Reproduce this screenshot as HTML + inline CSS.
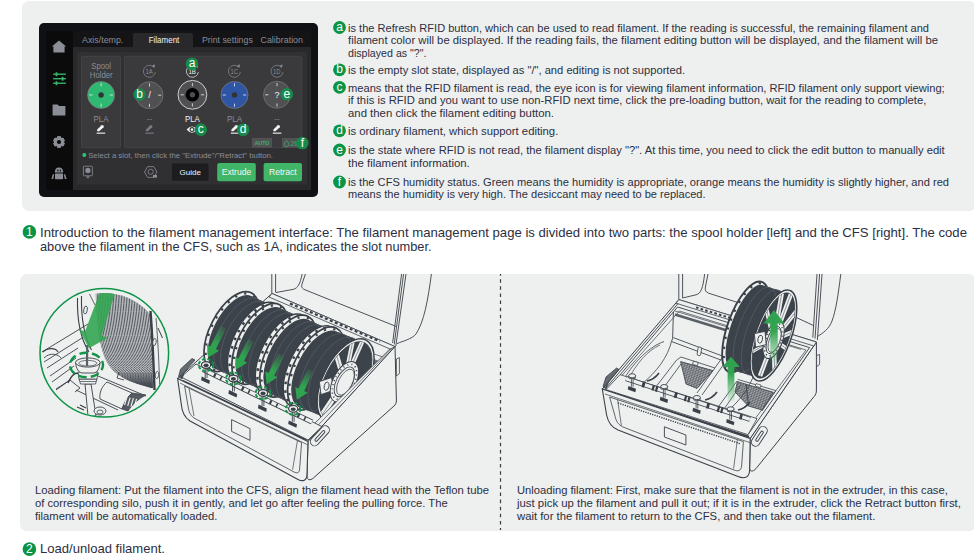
<!DOCTYPE html>
<html><head><meta charset="utf-8"><title>Filament management</title>
<style>
html,body{margin:0;padding:0;background:#fff;}
body{width:974px;height:558px;overflow:hidden;}
svg{display:block;font-family:"Liberation Sans",sans-serif;}
</style></head><body>
<svg width="974" height="558" viewBox="0 0 974 558">
<rect x="22" y="1" width="954" height="210" rx="7" fill="#eef0ef"/>
<rect x="20" y="274" width="956" height="257" rx="7" fill="#eef0ef"/>
<line x1="500.5" y1="273.9" x2="500.5" y2="530" stroke="#3a4048" stroke-width="1.25" stroke-dasharray="3.55 3.559" stroke-dashoffset="1.8"/>
<!-- text -->
<g fill="#2c2f42">
<text x="348" y="31.7" font-size="10.8" textLength="581.0" lengthAdjust="spacingAndGlyphs">is the Refresh RFID button, which can be used to read filament. If the reading is successful, the remaining filament and</text>
<text x="348" y="43.9" font-size="10.8" textLength="590.0" lengthAdjust="spacingAndGlyphs">filament color will be displayed. If the reading fails, the filament editing button will be displayed, and the filament will be</text>
<text x="348" y="56.6" font-size="10.8" textLength="78.5" lengthAdjust="spacingAndGlyphs">displayed as "?".</text>
<text x="348" y="73.7" font-size="10.8" textLength="337.0" lengthAdjust="spacingAndGlyphs">is the empty slot state, displayed as "/", and editing is not supported.</text>
<text x="348" y="92.1" font-size="10.8" textLength="596.7" lengthAdjust="spacingAndGlyphs">means that the RFID filament is read, the eye icon is for viewing filament information, RFID filament only support viewing;</text>
<text x="348" y="103.7" font-size="10.8" textLength="578.3" lengthAdjust="spacingAndGlyphs">if this is RFID and you want to use non-RFID next time, click the pre-loading button, wait for the reading to complete,</text>
<text x="348" y="117" font-size="10.8" textLength="206.0" lengthAdjust="spacingAndGlyphs">and then click the filament editing button.</text>
<text x="348" y="134.9" font-size="10.8" textLength="210.3" lengthAdjust="spacingAndGlyphs">is ordinary filament, which support editing.</text>
<text x="348" y="154" font-size="10.8" textLength="596.7" lengthAdjust="spacingAndGlyphs">is the state where RFID is not read, the filament display "?". At this time, you need to click the edit button to manually edit</text>
<text x="348" y="166.8" font-size="10.8" textLength="121.8" lengthAdjust="spacingAndGlyphs">the filament information.</text>
<text x="348" y="186" font-size="10.8" textLength="601.0" lengthAdjust="spacingAndGlyphs">is the CFS humidity status. Green means the humidity is appropriate, orange means the humidity is slightly higher, and red</text>
<text x="348" y="197.8" font-size="10.8" textLength="357.6" lengthAdjust="spacingAndGlyphs">means the humidity is very high. The desiccant may need to be replaced.</text>
<text x="40" y="237.2" font-size="12.2" textLength="927.0" lengthAdjust="spacingAndGlyphs">Introduction to the filament management interface: The filament management page is divided into two parts: the spool holder [left] and the CFS [right]. The code</text>
<text x="40" y="251.3" font-size="12.2" textLength="391.6" lengthAdjust="spacingAndGlyphs">above the filament in the CFS, such as 1A, indicates the slot number.</text>
<text x="40" y="553.4" font-size="12.2" textLength="125.0" lengthAdjust="spacingAndGlyphs">Load/unload filament.</text>
<text x="35" y="493.8" font-size="10.6" textLength="454.0" lengthAdjust="spacingAndGlyphs">Loading filament: Put the filament into the CFS, align the filament head with the Teflon tube</text>
<text x="35" y="506.8" font-size="10.6" textLength="412.7" lengthAdjust="spacingAndGlyphs">of corresponding silo, push it in gently, and let go after feeling the pulling force. The</text>
<text x="35" y="519.8" font-size="10.6" textLength="182.3" lengthAdjust="spacingAndGlyphs">filament will be automatically loaded.</text>
<text x="517" y="493.8" font-size="10.6" textLength="430.8" lengthAdjust="spacingAndGlyphs">Unloading filament: First, make sure that the filament is not in the extruder, in this case,</text>
<text x="517" y="506.8" font-size="10.6" textLength="443.9" lengthAdjust="spacingAndGlyphs">just pick up the filament and pull it out; if it is in the extruder, click the Retract button first,</text>
<text x="517" y="519.8" font-size="10.6" textLength="358.3" lengthAdjust="spacingAndGlyphs">wait for the filament to return to the CFS, and then take out the filament.</text>
</g>
<circle cx="339.5" cy="27.5" r="6.4" fill="#0a9446"/><text x="339.5" y="31.1" font-size="12" fill="#fff" text-anchor="middle">a</text>
<circle cx="339.5" cy="69.8" r="6.4" fill="#0a9446"/><text x="339.5" y="73.39999999999999" font-size="12" fill="#fff" text-anchor="middle">b</text>
<circle cx="339.5" cy="87.3" r="6.4" fill="#0a9446"/><text x="339.5" y="90.89999999999999" font-size="12" fill="#fff" text-anchor="middle">c</text>
<circle cx="339.5" cy="130.8" r="6.4" fill="#0a9446"/><text x="339.5" y="134.4" font-size="12" fill="#fff" text-anchor="middle">d</text>
<circle cx="339.5" cy="150" r="6.4" fill="#0a9446"/><text x="339.5" y="153.6" font-size="12" fill="#fff" text-anchor="middle">e</text>
<circle cx="339.5" cy="182" r="6.4" fill="#0a9446"/><text x="339.5" y="185.6" font-size="12" fill="#fff" text-anchor="middle">f</text>
<circle cx="29.4" cy="231.9" r="6.8" fill="#0a9446"/><text x="29.4" y="236.1" font-size="12" fill="#fff" text-anchor="middle">1</text>
<circle cx="29.4" cy="549.1" r="6.8" fill="#0a9446"/><text x="29.4" y="553.3000000000001" font-size="12" fill="#fff" text-anchor="middle">2</text>
<!-- screen -->
<g>
<rect x="39" y="23" width="279" height="174" rx="5" fill="#101114"/>
<rect x="46" y="31" width="27" height="159" fill="#0b0b0b"/>
<rect x="73" y="31" width="238" height="159" fill="#141416"/>
<rect x="73" y="47" width="238" height="143" fill="#29292b"/>
<path d="M133 47 L133 35 Q133 33 135 33 L191 33 Q193 33 193 35 L193 47 Z" fill="#29292b"/>
<rect x="77" y="52" width="230" height="132.5" rx="1.5" fill="#303032"/>
<rect x="81.5" y="56.3" width="39" height="91.4" rx="1.2" fill="#3a3a3c" stroke="#48484b" stroke-width="0.7"/>
<rect x="124.4" y="56.3" width="177.4" height="91.4" rx="1.2" fill="#3a3a3c" stroke="#48484b" stroke-width="0.7"/>
<text x="82" y="43.1" font-size="8.6" fill="#8b8d97" textLength="41.3" lengthAdjust="spacingAndGlyphs">Axis/temp.</text>
<text x="148.7" y="43.1" font-size="8.6" fill="#f4f4f4" textLength="30.6" lengthAdjust="spacingAndGlyphs">Filament</text>
<text x="201.9" y="43.1" font-size="8.6" fill="#8b8d97" textLength="50.9" lengthAdjust="spacingAndGlyphs">Print settings</text>
<text x="260.5" y="43.1" font-size="8.6" fill="#8b8d97" textLength="42.5" lengthAdjust="spacingAndGlyphs">Calibration</text>
<g fill="#8b8d97">
<path d="M59 40.6 L66.2 46.6 L64.6 46.6 L64.6 52.4 L53.4 52.4 L53.4 46.6 L51.8 46.6 Z"/>
<path d="M52.6 104.6 L57.6 104.6 L59 106 L65.4 106 L65.4 115.4 L52.6 115.4 Z"/>
<rect x="56.9" y="136.2" width="4.2" height="11.6" rx="1.2" transform="rotate(0 59 142)"/><rect x="56.9" y="136.2" width="4.2" height="11.6" rx="1.2" transform="rotate(60 59 142)"/><rect x="56.9" y="136.2" width="4.2" height="11.6" rx="1.2" transform="rotate(120 59 142)"/><rect x="56.9" y="136.2" width="4.2" height="11.6" rx="1.2" transform="rotate(180 59 142)"/><rect x="56.9" y="136.2" width="4.2" height="11.6" rx="1.2" transform="rotate(240 59 142)"/><rect x="56.9" y="136.2" width="4.2" height="11.6" rx="1.2" transform="rotate(300 59 142)"/>
<circle cx="59" cy="142" r="4.7"/>
<circle cx="59" cy="142" r="2.1" fill="#0b0b0b"/>
<path d="M54.8 172.6 Q54.8 167.4 59 167.4 Q63.2 167.4 63.2 172.6 Z"/>
<rect x="55" y="173.4" width="8" height="5.8" rx="0.6"/>
<path d="M54.2 174.2 L53.2 179 L51.4 179 L52.8 174.2 Z"/><path d="M63.8 174.2 L64.8 179 L66.6 179 L65.2 174.2 Z"/>
<rect x="57.2" y="169.6" width="1.2" height="1.8" fill="#0b0b0b"/><rect x="59.8" y="169.6" width="1.2" height="1.8" fill="#0b0b0b"/>
</g>
<g fill="#36b56b">
<rect x="53.2" y="73.5" width="12.6" height="1.4"/>
<rect x="55.6" y="72.2" width="1.8" height="4" rx="0.4"/>
<rect x="53.2" y="78.0" width="12.6" height="1.4"/>
<rect x="61.7" y="76.7" width="1.8" height="4" rx="0.4"/>
<rect x="53.2" y="82.5" width="12.6" height="1.4"/>
<rect x="55.6" y="81.2" width="1.8" height="4" rx="0.4"/>
</g>
<text x="101.2" y="69.2" font-size="8.4" fill="#8b8d97" text-anchor="middle" textLength="19.7" lengthAdjust="spacingAndGlyphs">Spool</text>
<text x="101.2" y="77.6" font-size="8.4" fill="#8b8d97" text-anchor="middle" textLength="22.8" lengthAdjust="spacingAndGlyphs">Holder</text>
<circle cx="101.1" cy="95" r="13.5" fill="#2fb871" stroke="#7c7c80" stroke-width="0.7"/><line x1="101.1" y1="86.4" x2="101.1" y2="83.2" stroke="#c9f0db" stroke-width="0.9"/><line x1="101.1" y1="103.6" x2="101.1" y2="106.8" stroke="#c9f0db" stroke-width="0.9"/><line x1="92.5" y1="95.0" x2="89.3" y2="95.0" stroke="#c9f0db" stroke-width="0.9"/><line x1="109.69999999999999" y1="95.0" x2="112.89999999999999" y2="95.0" stroke="#c9f0db" stroke-width="0.9"/><circle cx="101.1" cy="95" r="2.7" fill="#333335"/>
<text x="101" y="121.5" font-size="8.6" fill="#8b8d97" text-anchor="middle" textLength="14.9" lengthAdjust="spacingAndGlyphs">PLA</text>
<g fill="#f4f4f4"><path d="M97.19999999999999 131.2 L97.19999999999999 129.6 L101.6 125.2 Q102.1 124.7 102.6 125.2 L103.6 126.2 Q104.1 126.7 103.6 127.2 L99.19999999999999 131.2 Z"/><rect x="96.6" y="132.6" width="8.6" height="1.1"/></g>
<path d="M153.26 66.70 A6.0 6.0 0 1 0 155.34 72.14" fill="none" stroke="#8b8d97" stroke-width="0.7"/><path d="M151.80 65.90 L155.00 64.30 L154.30 67.90 Z" fill="#8b8d97"/><text x="149.20000000000002" y="74.2" font-size="8" fill="#8b8d97" text-anchor="middle" textLength="7.4" lengthAdjust="spacingAndGlyphs">1A</text>
<circle cx="149.5" cy="95.2" r="13.5" fill="#505053" stroke="#7c7c80" stroke-width="0.7"/><line x1="149.5" y1="86.60000000000001" x2="149.5" y2="83.4" stroke="#d9d9dc" stroke-width="0.9"/><line x1="149.5" y1="103.8" x2="149.5" y2="107.0" stroke="#d9d9dc" stroke-width="0.9"/><line x1="140.9" y1="95.2" x2="137.7" y2="95.2" stroke="#d9d9dc" stroke-width="0.9"/><line x1="158.1" y1="95.2" x2="161.3" y2="95.2" stroke="#d9d9dc" stroke-width="0.9"/>
<text x="149.6" y="98.4" font-size="9.5" fill="#f4f4f4" text-anchor="middle">/</text>
<text x="149.5" y="120.5" font-size="8" fill="#8b8d97" text-anchor="middle">--</text>
<g fill="#77787f"><path d="M145.9 131.2 L145.9 129.6 L150.3 125.2 Q150.8 124.7 151.3 125.2 L152.3 126.2 Q152.8 126.7 152.3 127.2 L147.9 131.2 Z"/><rect x="145.3" y="132.6" width="8.6" height="1.1"/></g>
<path d="M196.26 66.70 A6.0 6.0 0 1 0 198.34 72.14" fill="none" stroke="#f4f4f4" stroke-width="0.7"/><path d="M194.80 65.90 L198.00 64.30 L197.30 67.90 Z" fill="#f4f4f4"/><text x="192.20000000000002" y="74.2" font-size="8" fill="#f4f4f4" text-anchor="middle" textLength="7.4" lengthAdjust="spacingAndGlyphs">1B</text>
<circle cx="192.4" cy="94.8" r="14.4" fill="#505053" stroke="#f0f0f0" stroke-width="0.8"/>
<circle cx="192.4" cy="94.8" r="13.5" fill="none" stroke="none" stroke-width="0.7"/><line x1="192.4" y1="86.2" x2="192.4" y2="83.0" stroke="#d9d9dc" stroke-width="0.9"/><line x1="192.4" y1="103.39999999999999" x2="192.4" y2="106.6" stroke="#d9d9dc" stroke-width="0.9"/><line x1="183.8" y1="94.8" x2="180.6" y2="94.8" stroke="#d9d9dc" stroke-width="0.9"/><line x1="201.0" y1="94.8" x2="204.20000000000002" y2="94.8" stroke="#d9d9dc" stroke-width="0.9"/>
<circle cx="192.4" cy="94.8" r="6.8" fill="#000"/><circle cx="192.4" cy="94.8" r="2.7" fill="#4c4c4f"/>
<text x="192.4" y="121.5" font-size="8.6" fill="#f4f4f4" text-anchor="middle" textLength="14.9" lengthAdjust="spacingAndGlyphs">PLA</text>
<path d="M186.6 129.6 Q192 123.4 197.4 129.6 Q192 135.8 186.6 129.6 Z" fill="#f4f4f4"/><circle cx="192" cy="129.6" r="2.5" fill="#3a3a3c"/><circle cx="192" cy="129.6" r="1.3" fill="#f4f4f4"/>
<path d="M238.26 66.70 A6.0 6.0 0 1 0 240.34 72.14" fill="none" stroke="#8b8d97" stroke-width="0.7"/><path d="M236.80 65.90 L240.00 64.30 L239.30 67.90 Z" fill="#8b8d97"/><text x="234.20000000000002" y="74.2" font-size="8" fill="#8b8d97" text-anchor="middle" textLength="7.4" lengthAdjust="spacingAndGlyphs">1C</text>
<circle cx="234.5" cy="95" r="13.5" fill="#2f55a5" stroke="#7c7c80" stroke-width="0.7"/><line x1="234.5" y1="86.4" x2="234.5" y2="83.2" stroke="#d5dcf0" stroke-width="0.9"/><line x1="234.5" y1="103.6" x2="234.5" y2="106.8" stroke="#d5dcf0" stroke-width="0.9"/><line x1="225.9" y1="95.0" x2="222.7" y2="95.0" stroke="#d5dcf0" stroke-width="0.9"/><line x1="243.1" y1="95.0" x2="246.3" y2="95.0" stroke="#d5dcf0" stroke-width="0.9"/><circle cx="234.5" cy="95" r="2.7" fill="#333335"/>
<text x="234.5" y="121.5" font-size="8.6" fill="#8b8d97" text-anchor="middle" textLength="14.9" lengthAdjust="spacingAndGlyphs">PLA</text>
<g fill="#f4f4f4"><path d="M231.4 131.2 L231.4 129.6 L235.8 125.2 Q236.3 124.7 236.8 125.2 L237.8 126.2 Q238.3 126.7 237.8 127.2 L233.4 131.2 Z"/><rect x="230.8" y="132.6" width="8.6" height="1.1"/></g>
<path d="M280.86 66.70 A6.0 6.0 0 1 0 282.94 72.14" fill="none" stroke="#8b8d97" stroke-width="0.7"/><path d="M279.40 65.90 L282.60 64.30 L281.90 67.90 Z" fill="#8b8d97"/><text x="276.8" y="74.2" font-size="8" fill="#8b8d97" text-anchor="middle" textLength="7.4" lengthAdjust="spacingAndGlyphs">1D</text>
<circle cx="277" cy="94.8" r="13.5" fill="#505053" stroke="#7c7c80" stroke-width="0.7"/><line x1="277.0" y1="86.2" x2="277.0" y2="83.0" stroke="#d9d9dc" stroke-width="0.9"/><line x1="277.0" y1="103.39999999999999" x2="277.0" y2="106.6" stroke="#d9d9dc" stroke-width="0.9"/><line x1="268.4" y1="94.8" x2="265.2" y2="94.8" stroke="#d9d9dc" stroke-width="0.9"/><line x1="285.6" y1="94.8" x2="288.8" y2="94.8" stroke="#d9d9dc" stroke-width="0.9"/>
<text x="277" y="98.2" font-size="9" fill="#f4f4f4" text-anchor="middle">?</text>
<text x="277" y="120.5" font-size="8" fill="#8b8d97" text-anchor="middle">--</text>
<g fill="#f4f4f4"><path d="M273.40000000000003 131.2 L273.40000000000003 129.6 L277.8 125.2 Q278.3 124.7 278.8 125.2 L279.8 126.2 Q280.3 126.7 279.8 127.2 L275.40000000000003 131.2 Z"/><rect x="272.8" y="132.6" width="8.6" height="1.1"/></g>
<rect x="252" y="138" width="20" height="9.7" fill="#525255"/>
<text x="262" y="145.2" font-size="5.2" fill="#3fae68" text-anchor="middle" font-weight="bold">AUTO</text>
<rect x="282" y="138" width="19.6" height="9.7" fill="#525255"/>
<path d="M286.6 140.4 Q289 143 289 144.4 A2.4 2.4 0 0 1 284.2 144.4 Q284.2 143 286.6 140.4 Z" fill="none" stroke="#3fae68" stroke-width="0.7"/>
<text x="290.6" y="145.6" font-size="6.6" fill="#3fae68">26</text>
<circle cx="84.3" cy="155" r="2" fill="#2fc473"/>
<text x="88.2" y="157.6" font-size="7.9" fill="#8b8d97" textLength="184.8" lengthAdjust="spacingAndGlyphs">Select a slot, then click the "Extrude"/"Retract" button.</text>
<rect x="83.4" y="166.2" width="9" height="9.6" rx="0.8" fill="none" stroke="#8b8d97" stroke-width="0.8"/><circle cx="87.9" cy="170.4" r="2.6" fill="#8b8d97"/><path d="M86 176.6 L89.8 176.6 L87.9 178.4 Z" fill="#8b8d97"/>
<polygon points="156.90,172.00 153.80,177.37 147.60,177.37 144.50,172.00 147.60,166.63 153.80,166.63" fill="none" stroke="#8b8d97" stroke-width="0.8"/><circle cx="150.7" cy="171.8" r="2.6" fill="none" stroke="#8b8d97" stroke-width="0.8"/><rect x="153" y="175" width="4" height="2.6" fill="#8b8d97"/>
<rect x="171.4" y="163" width="37.6" height="18.2" rx="2" fill="#1d1d1f" stroke="#3a3a3d" stroke-width="0.6"/>
<text x="190.2" y="175.2" font-size="8" fill="#f4f4f4" text-anchor="middle">Guide</text>
<rect x="217.2" y="163" width="38.6" height="18.2" rx="2" fill="#42b668"/>
<text x="236.5" y="175.2" font-size="8.6" fill="#f4f4f4" text-anchor="middle">Extrude</text>
<rect x="263.6" y="163" width="38.4" height="18.2" rx="2" fill="#42b668"/>
<text x="282.8" y="175.4" font-size="8.6" fill="#f4f4f4" text-anchor="middle">Retract</text>
<circle cx="192" cy="63.8" r="6.3" fill="#178a4b"/><text x="192" y="67.3" font-size="12" fill="#fff" text-anchor="middle">a</text>
<circle cx="139.6" cy="94.5" r="6.3" fill="#178a4b"/><text x="139.6" y="98.0" font-size="12" fill="#fff" text-anchor="middle">b</text>
<circle cx="200.8" cy="129.6" r="6.3" fill="#178a4b"/><text x="200.8" y="133.1" font-size="12" fill="#fff" text-anchor="middle">c</text>
<circle cx="243.1" cy="129.8" r="6.3" fill="#178a4b"/><text x="243.1" y="133.3" font-size="12" fill="#fff" text-anchor="middle">d</text>
<circle cx="286.8" cy="94.2" r="6.3" fill="#178a4b"/><text x="286.8" y="97.7" font-size="12" fill="#fff" text-anchor="middle">e</text>
<circle cx="302.3" cy="143" r="6.3" fill="#178a4b"/><text x="302.3" y="146.5" font-size="12" fill="#fff" text-anchor="middle">f</text>
</g>
<!-- illus_l -->
<g><g fill="none" stroke="#3a4048" stroke-width="0.9">
<path d="M271.8 274 L271.8 293.5 M275.6 274 L275.6 292"/>
<path d="M275.6 292.6 L293 289.4 C 298 288.3, 300 284, 302.2 274"/>
<path d="M305.4 274 L302 284 C 301.2 287, 302 288.6, 305 289.8 L396 326.4"/>
<path d="M401.6 274 L392.6 343 M406 274 L395.8 346 M403.6 274 L394.2 344.4"/>
<path d="M431.4 274 C 428 300, 424 322, 416 334 C 412 339, 403 341, 397 343.6"/>
</g>
<path d="M177.6 378.5 L272 293.5 L395 346.6 L308 441.5 Z" fill="#eef0ef" stroke="#3a4048" stroke-width="1"/>
<path d="M272 293.5 L395 346.6 L392.4 350 L269 297 Z" fill="#eef0ef" stroke="#3a4048" stroke-width="0.8"/>
<path d="M290 303.5 L380 341.4" stroke="#3a4048" stroke-width="2.2" stroke-dasharray="3 2.4" fill="none"/>
<path d="M368 352 L386 358 L366 380 L352 372 Z" fill="#eef0ef" stroke="#3a4048" stroke-width="0.7"/>
<path d="M366 356 L382 362 L368 380 L356 374 Z" fill="#6b7178"/>
<ellipse cx="231.5" cy="331.6" rx="21.5" ry="43.5" transform="rotate(27 231.5 331.6)" fill="#eef0ef" stroke="#3a4048" stroke-width="1.7"/>
<ellipse cx="233.1" cy="332.4" rx="19.8" ry="40.6" transform="rotate(27 233.1 332.4)" fill="#3c434b"/>
<ellipse cx="234.8" cy="333.2" rx="19.8" ry="40.6" transform="rotate(27 234.8 333.2)" fill="#3c434b"/>
<ellipse cx="236.6" cy="334.0" rx="19.8" ry="40.6" transform="rotate(27 236.6 334.0)" fill="#3c434b"/>
<ellipse cx="238.3" cy="334.7" rx="19.8" ry="40.6" transform="rotate(27 238.3 334.7)" fill="#3c434b"/>
<ellipse cx="240.0" cy="335.5" rx="19.8" ry="40.6" transform="rotate(27 240.0 335.5)" fill="#3c434b"/>
<ellipse cx="241.8" cy="336.3" rx="19.8" ry="40.6" transform="rotate(27 241.8 336.3)" fill="#3c434b"/>
<ellipse cx="243.5" cy="337.1" rx="19.8" ry="40.6" transform="rotate(27 243.5 337.1)" fill="#3c434b"/>
<ellipse cx="245.2" cy="337.8" rx="19.8" ry="40.6" transform="rotate(27 245.2 337.8)" fill="#3c434b"/>
<ellipse cx="247.0" cy="338.6" rx="19.8" ry="40.6" transform="rotate(27 247.0 338.6)" fill="#3c434b"/>
<ellipse cx="248.7" cy="339.4" rx="19.8" ry="40.6" transform="rotate(27 248.7 339.4)" fill="#3c434b"/>
<ellipse cx="250.4" cy="340.2" rx="19.8" ry="40.6" transform="rotate(27 250.4 340.2)" fill="#3c434b"/>
<ellipse cx="252.2" cy="340.9" rx="19.8" ry="40.6" transform="rotate(27 252.2 340.9)" fill="#3c434b"/>
<ellipse cx="253.9" cy="341.7" rx="19.8" ry="40.6" transform="rotate(27 253.9 341.7)" fill="#3c434b"/>
<ellipse cx="232.1" cy="331.9" rx="20.6" ry="41.9" transform="rotate(27 232.1 331.9)" fill="none" stroke="#3a4048" stroke-width="2.2" stroke-dasharray="2.2 7.4"/>
<ellipse cx="239.3" cy="335.2" rx="19.8" ry="40.6" transform="rotate(27 239.3 335.2)" fill="none" stroke="#5b626a" stroke-width="0.6"/>
<ellipse cx="246.0" cy="338.2" rx="19.8" ry="40.6" transform="rotate(27 246.0 338.2)" fill="none" stroke="#5b626a" stroke-width="0.6"/>
<ellipse cx="254.9" cy="342.2" rx="21.5" ry="43.5" transform="rotate(27 254.9 342.2)" fill="#eef0ef" stroke="#3a4048" stroke-width="1.5"/>
<ellipse cx="256.1" cy="342.8" rx="20.7" ry="42.1" transform="rotate(27 256.1 342.8)" fill="none" stroke="#3a4048" stroke-width="2.4" stroke-dasharray="2.6 6.2" stroke-dashoffset="3"/>
<ellipse cx="259.7" cy="343.9" rx="21.8" ry="44.0" transform="rotate(27 259.7 343.9)" fill="#eef0ef" stroke="#3a4048" stroke-width="1.7"/>
<ellipse cx="261.3" cy="344.7" rx="20.1" ry="41.1" transform="rotate(27 261.3 344.7)" fill="#3c434b"/>
<ellipse cx="263.0" cy="345.5" rx="20.1" ry="41.1" transform="rotate(27 263.0 345.5)" fill="#3c434b"/>
<ellipse cx="264.8" cy="346.3" rx="20.1" ry="41.1" transform="rotate(27 264.8 346.3)" fill="#3c434b"/>
<ellipse cx="266.5" cy="347.0" rx="20.1" ry="41.1" transform="rotate(27 266.5 347.0)" fill="#3c434b"/>
<ellipse cx="268.2" cy="347.8" rx="20.1" ry="41.1" transform="rotate(27 268.2 347.8)" fill="#3c434b"/>
<ellipse cx="270.0" cy="348.6" rx="20.1" ry="41.1" transform="rotate(27 270.0 348.6)" fill="#3c434b"/>
<ellipse cx="271.7" cy="349.4" rx="20.1" ry="41.1" transform="rotate(27 271.7 349.4)" fill="#3c434b"/>
<ellipse cx="273.4" cy="350.1" rx="20.1" ry="41.1" transform="rotate(27 273.4 350.1)" fill="#3c434b"/>
<ellipse cx="275.2" cy="350.9" rx="20.1" ry="41.1" transform="rotate(27 275.2 350.9)" fill="#3c434b"/>
<ellipse cx="276.9" cy="351.7" rx="20.1" ry="41.1" transform="rotate(27 276.9 351.7)" fill="#3c434b"/>
<ellipse cx="278.6" cy="352.5" rx="20.1" ry="41.1" transform="rotate(27 278.6 352.5)" fill="#3c434b"/>
<ellipse cx="280.4" cy="353.2" rx="20.1" ry="41.1" transform="rotate(27 280.4 353.2)" fill="#3c434b"/>
<ellipse cx="282.1" cy="354.0" rx="20.1" ry="41.1" transform="rotate(27 282.1 354.0)" fill="#3c434b"/>
<ellipse cx="260.3" cy="344.2" rx="20.9" ry="42.4" transform="rotate(27 260.3 344.2)" fill="none" stroke="#3a4048" stroke-width="2.2" stroke-dasharray="2.2 7.4"/>
<ellipse cx="267.5" cy="347.5" rx="20.1" ry="41.1" transform="rotate(27 267.5 347.5)" fill="none" stroke="#5b626a" stroke-width="0.6"/>
<ellipse cx="274.2" cy="350.5" rx="20.1" ry="41.1" transform="rotate(27 274.2 350.5)" fill="none" stroke="#5b626a" stroke-width="0.6"/>
<ellipse cx="283.1" cy="354.5" rx="21.8" ry="44.0" transform="rotate(27 283.1 354.5)" fill="#eef0ef" stroke="#3a4048" stroke-width="1.5"/>
<ellipse cx="284.3" cy="355.1" rx="21.0" ry="42.6" transform="rotate(27 284.3 355.1)" fill="none" stroke="#3a4048" stroke-width="2.4" stroke-dasharray="2.6 6.2" stroke-dashoffset="3"/>
<ellipse cx="287.9" cy="356.2" rx="22.0" ry="44.5" transform="rotate(27 287.9 356.2)" fill="#eef0ef" stroke="#3a4048" stroke-width="1.7"/>
<ellipse cx="289.5" cy="357.0" rx="20.3" ry="41.6" transform="rotate(27 289.5 357.0)" fill="#3c434b"/>
<ellipse cx="291.2" cy="357.8" rx="20.3" ry="41.6" transform="rotate(27 291.2 357.8)" fill="#3c434b"/>
<ellipse cx="293.0" cy="358.6" rx="20.3" ry="41.6" transform="rotate(27 293.0 358.6)" fill="#3c434b"/>
<ellipse cx="294.7" cy="359.3" rx="20.3" ry="41.6" transform="rotate(27 294.7 359.3)" fill="#3c434b"/>
<ellipse cx="296.4" cy="360.1" rx="20.3" ry="41.6" transform="rotate(27 296.4 360.1)" fill="#3c434b"/>
<ellipse cx="298.2" cy="360.9" rx="20.3" ry="41.6" transform="rotate(27 298.2 360.9)" fill="#3c434b"/>
<ellipse cx="299.9" cy="361.7" rx="20.3" ry="41.6" transform="rotate(27 299.9 361.7)" fill="#3c434b"/>
<ellipse cx="301.6" cy="362.4" rx="20.3" ry="41.6" transform="rotate(27 301.6 362.4)" fill="#3c434b"/>
<ellipse cx="303.4" cy="363.2" rx="20.3" ry="41.6" transform="rotate(27 303.4 363.2)" fill="#3c434b"/>
<ellipse cx="305.1" cy="364.0" rx="20.3" ry="41.6" transform="rotate(27 305.1 364.0)" fill="#3c434b"/>
<ellipse cx="306.8" cy="364.8" rx="20.3" ry="41.6" transform="rotate(27 306.8 364.8)" fill="#3c434b"/>
<ellipse cx="308.6" cy="365.5" rx="20.3" ry="41.6" transform="rotate(27 308.6 365.5)" fill="#3c434b"/>
<ellipse cx="310.3" cy="366.3" rx="20.3" ry="41.6" transform="rotate(27 310.3 366.3)" fill="#3c434b"/>
<ellipse cx="288.5" cy="356.5" rx="21.1" ry="42.9" transform="rotate(27 288.5 356.5)" fill="none" stroke="#3a4048" stroke-width="2.2" stroke-dasharray="2.2 7.4"/>
<ellipse cx="295.7" cy="359.8" rx="20.3" ry="41.6" transform="rotate(27 295.7 359.8)" fill="none" stroke="#5b626a" stroke-width="0.6"/>
<ellipse cx="302.4" cy="362.8" rx="20.3" ry="41.6" transform="rotate(27 302.4 362.8)" fill="none" stroke="#5b626a" stroke-width="0.6"/>
<ellipse cx="311.3" cy="366.8" rx="22.0" ry="44.5" transform="rotate(27 311.3 366.8)" fill="#eef0ef" stroke="#3a4048" stroke-width="1.5"/>
<ellipse cx="312.5" cy="367.4" rx="21.2" ry="43.1" transform="rotate(27 312.5 367.4)" fill="none" stroke="#3a4048" stroke-width="2.4" stroke-dasharray="2.6 6.2" stroke-dashoffset="3"/>
<ellipse cx="316.1" cy="368.5" rx="22.3" ry="45.1" transform="rotate(27 316.1 368.5)" fill="#eef0ef" stroke="#3a4048" stroke-width="1.7"/>
<ellipse cx="317.7" cy="369.3" rx="20.6" ry="42.2" transform="rotate(27 317.7 369.3)" fill="#3c434b"/>
<ellipse cx="319.9" cy="370.2" rx="20.6" ry="42.2" transform="rotate(27 319.9 370.2)" fill="#3c434b"/>
<ellipse cx="322.2" cy="371.1" rx="20.6" ry="42.2" transform="rotate(27 322.2 371.1)" fill="#3c434b"/>
<ellipse cx="324.4" cy="371.9" rx="20.6" ry="42.2" transform="rotate(27 324.4 371.9)" fill="#3c434b"/>
<ellipse cx="326.7" cy="372.8" rx="20.6" ry="42.2" transform="rotate(27 326.7 372.8)" fill="#3c434b"/>
<ellipse cx="328.9" cy="373.7" rx="20.6" ry="42.2" transform="rotate(27 328.9 373.7)" fill="#3c434b"/>
<ellipse cx="331.2" cy="374.6" rx="20.6" ry="42.2" transform="rotate(27 331.2 374.6)" fill="#3c434b"/>
<ellipse cx="333.4" cy="375.4" rx="20.6" ry="42.2" transform="rotate(27 333.4 375.4)" fill="#3c434b"/>
<ellipse cx="335.6" cy="376.3" rx="20.6" ry="42.2" transform="rotate(27 335.6 376.3)" fill="#3c434b"/>
<ellipse cx="337.9" cy="377.2" rx="20.6" ry="42.2" transform="rotate(27 337.9 377.2)" fill="#3c434b"/>
<ellipse cx="340.1" cy="378.1" rx="20.6" ry="42.2" transform="rotate(27 340.1 378.1)" fill="#3c434b"/>
<ellipse cx="342.4" cy="378.9" rx="20.6" ry="42.2" transform="rotate(27 342.4 378.9)" fill="#3c434b"/>
<ellipse cx="344.6" cy="379.8" rx="20.6" ry="42.2" transform="rotate(27 344.6 379.8)" fill="#3c434b"/>
<ellipse cx="316.7" cy="368.8" rx="21.4" ry="43.5" transform="rotate(27 316.7 368.8)" fill="none" stroke="#3a4048" stroke-width="2.2" stroke-dasharray="2.2 7.4"/>
<ellipse cx="325.8" cy="372.4" rx="20.6" ry="42.2" transform="rotate(27 325.8 372.4)" fill="none" stroke="#5b626a" stroke-width="0.6"/>
<ellipse cx="334.4" cy="375.8" rx="20.6" ry="42.2" transform="rotate(27 334.4 375.8)" fill="none" stroke="#5b626a" stroke-width="0.6"/>
<ellipse cx="345.6" cy="380.3" rx="22.3" ry="45.1" transform="rotate(27 345.6 380.3)" fill="#eef0ef" stroke="#3a4048" stroke-width="1.5"/>
<clipPath id="spk4"><ellipse cx="345.6" cy="380.3" rx="20.4" ry="42.1" transform="rotate(27 345.6 380.3)"/></clipPath>
<ellipse cx="345.6" cy="380.3" rx="20.4" ry="42.1" transform="rotate(27 345.6 380.3)" fill="#3c434b" stroke="#3a4048" stroke-width="0.8"/>
<g clip-path="url(#spk4)">
<path d="M344.4 381.8 L335.0 350.0" stroke="#3a4048" stroke-width="6.6"/>
<path d="M344.4 381.8 L353.4 338.0" stroke="#3a4048" stroke-width="5.800000000000001"/>
<path d="M344.4 381.8 L362.6 341.0" stroke="#3a4048" stroke-width="5.800000000000001"/>
<path d="M344.4 381.8 L318.0 421.0" stroke="#3a4048" stroke-width="7.0"/>
<path d="M344.4 381.8 L352.0 414.0" stroke="#3a4048" stroke-width="6.6"/>
<path d="M344.4 381.8 L316.0 392.0" stroke="#3a4048" stroke-width="4.6"/>
<path d="M344.4 381.8 L335.0 350.0" stroke="#eef0ef" stroke-width="5"/>
<path d="M344.4 381.8 L335.0 350.0" stroke="#3a4048" stroke-width="0.5"/>
<path d="M344.4 381.8 L353.4 338.0" stroke="#eef0ef" stroke-width="4.2"/>
<path d="M344.4 381.8 L353.4 338.0" stroke="#3a4048" stroke-width="0.5"/>
<path d="M344.4 381.8 L362.6 341.0" stroke="#eef0ef" stroke-width="4.2"/>
<path d="M344.4 381.8 L362.6 341.0" stroke="#3a4048" stroke-width="0.5"/>
<path d="M344.4 381.8 L318.0 421.0" stroke="#eef0ef" stroke-width="5.4"/>
<path d="M344.4 381.8 L318.0 421.0" stroke="#3a4048" stroke-width="0.5"/>
<path d="M344.4 381.8 L352.0 414.0" stroke="#eef0ef" stroke-width="5"/>
<path d="M344.4 381.8 L352.0 414.0" stroke="#3a4048" stroke-width="0.5"/>
<path d="M344.4 381.8 L316.0 392.0" stroke="#eef0ef" stroke-width="3"/>
<path d="M344.4 381.8 L316.0 392.0" stroke="#3a4048" stroke-width="0.5"/>
</g>
<path d="M319.4 381.6 L331.6 377.6 L333.4 390.4 L321 394.6 Z" fill="#eef0ef" stroke="#3a4048" stroke-width="0.9"/><ellipse cx="326.6" cy="386.2" rx="2.4" ry="4.2" fill="#eef0ef" stroke="#3a4048" stroke-width="0.9" transform="rotate(14 326.6 386.2)"/>
<ellipse cx="344.4" cy="381.8" rx="11.4" ry="22.0" transform="rotate(27 344.4 381.8)" fill="#eef0ef" stroke="#3a4048" stroke-width="1.0"/>
<ellipse cx="344.4" cy="381.8" rx="9.7" ry="19.0" transform="rotate(27 344.4 381.8)" fill="none" stroke="#3a4048" stroke-width="1.6" stroke-dasharray="1.0 3.2"/>
<ellipse cx="344.4" cy="381.8" rx="8.0" ry="16.2" transform="rotate(27 344.4 381.8)" fill="#eef0ef" stroke="#3a4048" stroke-width="0.9"/>
<ellipse cx="345.4" cy="382.2" rx="6.8" ry="14.2" transform="rotate(27 345.4 382.2)" fill="#eef0ef" stroke="#3a4048" stroke-width="0.7"/>
<path d="M302.4 435.6 L389 349.8 L395 346.6 L308 441.5 Z" fill="#eef0ef" stroke="#3a4048" stroke-width="0.8"/>
<path d="M305.2 438.6 L392 348.2" fill="none" stroke="#3a4048" stroke-width="0.7"/>
<path d="M308 441.5 L395 346.6 L396.4 400 C 396.4 403, 395.6 404.6, 394 406 L313.4 478 C 310 481, 307 480, 307 476 Z" fill="#eef0ef" stroke="#3a4048" stroke-width="1"/>
<path d="M181 377 L196 364 L322 426.6 L308 440 Z" fill="#eef0ef" stroke="#3a4048" stroke-width="0.9"/>
<path d="M203 369.5 L312 422" stroke="#3a4048" stroke-width="5.2"/>
<path d="M203 369.5 L312 422" stroke="#eef0ef" stroke-width="3.6"/>
<path d="M203 369.5 L312 422" stroke="#3a4048" stroke-width="4" stroke-dasharray="2.2 5 1.6 22.2"  stroke-dashoffset="-12"/>
<path d="M183 380.6 L306 440" stroke="#3a4048" stroke-width="1.5" fill="none"/>
<path d="M177.6 378.5 L308 441.5 L307 474 C 307 480.6, 303 482, 298 479.4 L190 421 C 184 417, 182 412, 181.4 405 Z" fill="#eef0ef" stroke="#3a4048" stroke-width="1.1"/>
<path d="M184.6 386 L301.6 442.6 L299.6 469 C 299.6 473, 297 473.6, 294 472 L194 418 C 190 415, 189 412, 188 406 Z" fill="none" stroke="#3a4048" stroke-width="0.8"/>
<path d="M180 383 L307.6 444.8" stroke="#3a4048" stroke-width="0.7" fill="none"/>
<path d="M189 388.4 L194 416 M297.4 440.8 L292.6 469.6" stroke="#3a4048" stroke-width="0.7" fill="none"/>
<path d="M231.6 419.6 L250 428.6 L250 440.4 L231.6 431.4 Z" fill="#eef0ef" stroke="#3a4048" stroke-width="0.9"/>
<path d="M178.6 376.6 L180.6 369 L192 358.6 L195 360 L184.6 371.6 L182 379 Z" fill="#3a4048" fill-opacity="0.75" stroke="#3a4048" stroke-width="0.8"/>
<path d="M314.6 441.6 L325.2 430" stroke="#3a4048" stroke-width="9.4" stroke-linecap="round"/>
<path d="M314.6 441.6 L325.2 430" stroke="#eef0ef" stroke-width="7.6" stroke-linecap="round"/>
<path d="M316.2 440 L323.6 431.8" stroke="#3a4048" stroke-width="3.4" stroke-linecap="round"/>
<path d="M316.2 440 L323.6 431.8" stroke="#eef0ef" stroke-width="1.6" stroke-linecap="round"/>
<path d="M396.4 359 L399.4 357.6 L399.4 373.6 L396.4 376 Z" fill="#eef0ef" stroke="#3a4048" stroke-width="0.8"/>
<path d="M205.2 368 L205.2 378 M207.0 368 L207.0 378" stroke="#3a4048" stroke-width="0.9"/><path d="M201.7 376.6 L209.9 380.4 L209.29999999999998 384 L201.1 380.2 Z" fill="#3a4048"/><ellipse cx="206.1" cy="365" rx="4.6" ry="3.4" fill="#eef0ef" stroke="#3a4048" stroke-width="1.2"/><ellipse cx="206.1" cy="365.4" rx="2.6" ry="1.8" fill="#3a4048"/><ellipse cx="206.1" cy="365" rx="7.4" ry="6" fill="none" stroke="#129447" stroke-width="1.9" stroke-dasharray="3.4 2"/>
<path d="M232.5 381.5 L232.5 391.5 M234.3 381.5 L234.3 391.5" stroke="#3a4048" stroke-width="0.9"/><path d="M229.0 390.1 L237.20000000000002 393.9 L236.6 397.5 L228.4 393.7 Z" fill="#3a4048"/><ellipse cx="233.4" cy="378.5" rx="4.6" ry="3.4" fill="#eef0ef" stroke="#3a4048" stroke-width="1.2"/><ellipse cx="233.4" cy="378.9" rx="2.6" ry="1.8" fill="#3a4048"/><ellipse cx="233.4" cy="378.5" rx="7.4" ry="6" fill="none" stroke="#129447" stroke-width="1.9" stroke-dasharray="3.4 2"/>
<path d="M262.1 396 L262.1 406 M263.9 396 L263.9 406" stroke="#3a4048" stroke-width="0.9"/><path d="M258.6 404.6 L266.8 408.4 L266.2 412 L258 408.2 Z" fill="#3a4048"/><ellipse cx="263" cy="393" rx="4.6" ry="3.4" fill="#eef0ef" stroke="#3a4048" stroke-width="1.2"/><ellipse cx="263" cy="393.4" rx="2.6" ry="1.8" fill="#3a4048"/><ellipse cx="263" cy="393" rx="7.4" ry="6" fill="none" stroke="#129447" stroke-width="1.9" stroke-dasharray="3.4 2"/>
<path d="M292.3 411.8 L292.3 421.8 M294.09999999999997 411.8 L294.09999999999997 421.8" stroke="#3a4048" stroke-width="0.9"/><path d="M288.8 420.40000000000003 L297.0 424.2 L296.4 427.8 L288.2 424.0 Z" fill="#3a4048"/><ellipse cx="293.2" cy="408.8" rx="4.6" ry="3.4" fill="#eef0ef" stroke="#3a4048" stroke-width="1.2"/><ellipse cx="293.2" cy="409.2" rx="2.6" ry="1.8" fill="#3a4048"/><ellipse cx="293.2" cy="408.8" rx="7.4" ry="6" fill="none" stroke="#129447" stroke-width="1.9" stroke-dasharray="3.4 2"/>
<linearGradient id="ga0" gradientUnits="userSpaceOnUse" x1="223.4" y1="327" x2="208.2" y2="357.6"><stop offset="0" stop-color="#35a853" stop-opacity="0.15"/><stop offset="0.55" stop-color="#2fa44f" stop-opacity="1"/><stop offset="1" stop-color="#2fa44f"/></linearGradient><path d="M220.6 325.6 L210.3 346.4 L207.0 344.7 L208.2 357.6 L219.1 350.8 L215.9 349.1 L226.2 328.4 Z" fill="url(#ga0)"/>
<linearGradient id="ga1" gradientUnits="userSpaceOnUse" x1="251" y1="340" x2="236.3" y2="369.6"><stop offset="0" stop-color="#35a853" stop-opacity="0.15"/><stop offset="0.55" stop-color="#2fa44f" stop-opacity="1"/><stop offset="1" stop-color="#2fa44f"/></linearGradient><path d="M248.2 338.6 L238.4 358.4 L235.1 356.7 L236.3 369.6 L247.2 362.8 L244.0 361.1 L253.8 341.4 Z" fill="url(#ga1)"/>
<linearGradient id="ga2" gradientUnits="userSpaceOnUse" x1="281" y1="354.5" x2="266.6" y2="384.2"><stop offset="0" stop-color="#35a853" stop-opacity="0.15"/><stop offset="0.55" stop-color="#2fa44f" stop-opacity="1"/><stop offset="1" stop-color="#2fa44f"/></linearGradient><path d="M278.2 353.1 L268.6 372.9 L265.3 371.4 L266.6 384.2 L277.5 377.2 L274.2 375.7 L283.8 355.9 Z" fill="url(#ga2)"/>
<linearGradient id="ga3" gradientUnits="userSpaceOnUse" x1="310.4" y1="370.5" x2="296.8" y2="399.8"><stop offset="0" stop-color="#35a853" stop-opacity="0.15"/><stop offset="0.55" stop-color="#2fa44f" stop-opacity="1"/><stop offset="1" stop-color="#2fa44f"/></linearGradient><path d="M307.6 369.2 L298.6 388.5 L295.3 387.0 L296.8 399.8 L307.6 392.7 L304.2 391.1 L313.2 371.8 Z" fill="url(#ga3)"/><clipPath id="mag"><circle cx="104.3" cy="352.8" r="63.8"/></clipPath>
<clipPath id="mag2"><circle cx="104.3" cy="352.8" r="59.9"/></clipPath>
<circle cx="104.3" cy="352.8" r="64.3" fill="#eef0ef"/>
<g clip-path="url(#mag)">
<clipPath id="hat"><path d="M95.4 285 C 96 310, 97.5 332, 101.8 349 C 105 361, 110 368, 115.6 372.8 C 124 379.5, 133 382.6, 139.3 384.6 L152.8 388.6 C 153 365, 152 335, 150 311 L150 285 Z"/></clipPath>
<path d="M95.4 285 C 96 310, 97.5 332, 101.8 349 C 105 361, 110 368, 115.6 372.8 C 124 379.5, 133 382.6, 139.3 384.6 L152.8 388.6 C 153 365, 152 335, 150 311 L150 285 Z" fill="#eef0ef"/>
<g clip-path="url(#mag2)"><g clip-path="url(#hat)" stroke="#3a4048" stroke-width="0.85" fill="none">
<path d="M95.4 285.0 C96.0 310.0, 97.5 332.0, 101.8 349.0 C105.0 361.0, 110.0 368.0, 115.6 372.8 C124.0 379.5, 133.0 382.6, 139.3 384.6 C146.0 386.6, 156.0 389.4, 166.0 392.2"/>
<path d="M97.0 285.0 C97.6 310.0, 99.1 332.0, 103.4 349.0 C106.6 361.0, 111.6 368.0, 117.2 372.8 C125.6 379.5, 134.6 382.6, 140.9 384.6 C147.6 386.6, 157.6 389.4, 167.6 392.2"/>
<path d="M98.6 285.0 C99.2 310.0, 100.7 332.0, 105.0 349.0 C108.2 361.0, 113.2 368.0, 118.8 372.8 C127.2 379.5, 136.2 382.6, 142.5 384.6 C149.2 386.6, 159.2 389.4, 169.2 392.2"/>
<path d="M100.2 285.0 C100.8 310.0, 102.3 332.0, 106.6 349.0 C109.8 361.0, 114.8 368.0, 120.4 372.8 C128.8 379.5, 137.8 382.6, 144.1 384.6 C150.8 386.6, 160.8 389.4, 170.8 392.2"/>
<path d="M101.8 285.0 C102.4 310.0, 103.9 332.0, 108.2 349.0 C111.4 361.0, 116.4 368.0, 122.0 372.8 C130.4 379.5, 139.4 382.6, 145.7 384.6 C152.4 386.6, 162.4 389.4, 172.4 392.2"/>
<path d="M103.4 285.0 C104.0 310.0, 105.5 332.0, 109.8 349.0 C113.0 361.0, 118.0 368.0, 123.6 372.8 C132.0 379.5, 141.0 382.6, 147.3 384.6 C154.0 386.6, 164.0 389.4, 174.0 392.2"/>
<path d="M105.0 285.0 C105.6 310.0, 107.1 332.0, 111.4 349.0 C114.6 361.0, 119.6 368.0, 125.2 372.8 C133.6 379.5, 142.6 382.6, 148.9 384.6 C155.6 386.6, 165.6 389.4, 175.6 392.2"/>
<path d="M106.6 285.0 C107.2 310.0, 108.7 332.0, 113.0 349.0 C116.2 361.0, 121.2 368.0, 126.8 372.8 C135.2 379.5, 144.2 382.6, 150.5 384.6 C157.2 386.6, 167.2 389.4, 177.2 392.2"/>
<path d="M108.2 285.0 C108.8 310.0, 110.3 332.0, 114.6 349.0 C117.8 361.0, 122.8 368.0, 128.4 372.8 C136.8 379.5, 145.8 382.6, 152.1 384.6 C158.8 386.6, 168.8 389.4, 178.8 392.2"/>
<path d="M109.8 285.0 C110.4 310.0, 111.9 332.0, 116.2 349.0 C119.4 361.0, 124.4 368.0, 130.0 372.8 C138.4 379.5, 147.4 382.6, 153.7 384.6 C160.4 386.6, 170.4 389.4, 180.4 392.2"/>
<path d="M111.4 285.0 C112.0 310.0, 113.5 332.0, 117.8 349.0 C121.0 361.0, 126.0 368.0, 131.6 372.8 C140.0 379.5, 149.0 382.6, 155.3 384.6 C162.0 386.6, 172.0 389.4, 182.0 392.2"/>
<path d="M113.0 285.0 C113.6 310.0, 115.1 332.0, 119.4 349.0 C122.6 361.0, 127.6 368.0, 133.2 372.8 C141.6 379.5, 150.6 382.6, 156.9 384.6 C163.6 386.6, 173.6 389.4, 183.6 392.2"/>
<path d="M114.6 285.0 C115.2 310.0, 116.7 332.0, 121.0 349.0 C124.2 361.0, 129.2 368.0, 134.8 372.8 C143.2 379.5, 152.2 382.6, 158.5 384.6 C165.2 386.6, 175.2 389.4, 185.2 392.2"/>
<path d="M116.2 285.0 C116.8 310.0, 118.3 332.0, 122.6 349.0 C125.8 361.0, 130.8 368.0, 136.4 372.8 C144.8 379.5, 153.8 382.6, 160.1 384.6 C166.8 386.6, 176.8 389.4, 186.8 392.2"/>
<path d="M117.8 285.0 C118.4 310.0, 119.9 332.0, 124.2 349.0 C127.4 361.0, 132.4 368.0, 138.0 372.8 C146.4 379.5, 155.4 382.6, 161.7 384.6 C168.4 386.6, 178.4 389.4, 188.4 392.2"/>
<path d="M119.4 285.0 C120.0 310.0, 121.5 332.0, 125.8 349.0 C129.0 361.0, 134.0 368.0, 139.6 372.8 C148.0 379.5, 157.0 382.6, 163.3 384.6 C170.0 386.6, 180.0 389.4, 190.0 392.2"/>
<path d="M121.0 285.0 C121.6 310.0, 123.1 332.0, 127.4 349.0 C130.6 361.0, 135.6 368.0, 141.2 372.8 C149.6 379.5, 158.6 382.6, 164.9 384.6 C171.6 386.6, 181.6 389.4, 191.6 392.2"/>
<path d="M122.6 285.0 C123.2 310.0, 124.7 332.0, 129.0 349.0 C132.2 361.0, 137.2 368.0, 142.8 372.8 C151.2 379.5, 160.2 382.6, 166.5 384.6 C173.2 386.6, 183.2 389.4, 193.2 392.2"/>
<path d="M124.2 285.0 C124.8 310.0, 126.3 332.0, 130.6 349.0 C133.8 361.0, 138.8 368.0, 144.4 372.8 C152.8 379.5, 161.8 382.6, 168.1 384.6 C174.8 386.6, 184.8 389.4, 194.8 392.2"/>
<path d="M125.8 285.0 C126.4 310.0, 127.9 332.0, 132.2 349.0 C135.4 361.0, 140.4 368.0, 146.0 372.8 C154.4 379.5, 163.4 382.6, 169.7 384.6 C176.4 386.6, 186.4 389.4, 196.4 392.2"/>
<path d="M127.4 285.0 C128.0 310.0, 129.5 332.0, 133.8 349.0 C137.0 361.0, 142.0 368.0, 147.6 372.8 C156.0 379.5, 165.0 382.6, 171.3 384.6 C178.0 386.6, 188.0 389.4, 198.0 392.2"/>
<path d="M129.0 285.0 C129.6 310.0, 131.1 332.0, 135.4 349.0 C138.6 361.0, 143.6 368.0, 149.2 372.8 C157.6 379.5, 166.6 382.6, 172.9 384.6 C179.6 386.6, 189.6 389.4, 199.6 392.2"/>
<path d="M130.6 285.0 C131.2 310.0, 132.7 332.0, 137.0 349.0 C140.2 361.0, 145.2 368.0, 150.8 372.8 C159.2 379.5, 168.2 382.6, 174.5 384.6 C181.2 386.6, 191.2 389.4, 201.2 392.2"/>
<path d="M132.2 285.0 C132.8 310.0, 134.3 332.0, 138.6 349.0 C141.8 361.0, 146.8 368.0, 152.4 372.8 C160.8 379.5, 169.8 382.6, 176.1 384.6 C182.8 386.6, 192.8 389.4, 202.8 392.2"/>
<path d="M133.8 285.0 C134.4 310.0, 135.9 332.0, 140.2 349.0 C143.4 361.0, 148.4 368.0, 154.0 372.8 C162.4 379.5, 171.4 382.6, 177.7 384.6 C184.4 386.6, 194.4 389.4, 204.4 392.2"/>
<path d="M135.4 285.0 C136.0 310.0, 137.5 332.0, 141.8 349.0 C145.0 361.0, 150.0 368.0, 155.6 372.8 C164.0 379.5, 173.0 382.6, 179.3 384.6 C186.0 386.6, 196.0 389.4, 206.0 392.2"/>
<path d="M137.0 285.0 C137.6 310.0, 139.1 332.0, 143.4 349.0 C146.6 361.0, 151.6 368.0, 157.2 372.8 C165.6 379.5, 174.6 382.6, 180.9 384.6 C187.6 386.6, 197.6 389.4, 207.6 392.2"/>
<path d="M138.6 285.0 C139.2 310.0, 140.7 332.0, 145.0 349.0 C148.2 361.0, 153.2 368.0, 158.8 372.8 C167.2 379.5, 176.2 382.6, 182.5 384.6 C189.2 386.6, 199.2 389.4, 209.2 392.2"/>
<path d="M140.2 285.0 C140.8 310.0, 142.3 332.0, 146.6 349.0 C149.8 361.0, 154.8 368.0, 160.4 372.8 C168.8 379.5, 177.8 382.6, 184.1 384.6 C190.8 386.6, 200.8 389.4, 210.8 392.2"/>
<path d="M141.8 285.0 C142.4 310.0, 143.9 332.0, 148.2 349.0 C151.4 361.0, 156.4 368.0, 162.0 372.8 C170.4 379.5, 179.4 382.6, 185.7 384.6 C192.4 386.6, 202.4 389.4, 212.4 392.2"/>
<path d="M143.4 285.0 C144.0 310.0, 145.5 332.0, 149.8 349.0 C153.0 361.0, 158.0 368.0, 163.6 372.8 C172.0 379.5, 181.0 382.6, 187.3 384.6 C194.0 386.6, 204.0 389.4, 214.0 392.2"/>
<path d="M145.0 285.0 C145.6 310.0, 147.1 332.0, 151.4 349.0 C154.6 361.0, 159.6 368.0, 165.2 372.8 C173.6 379.5, 182.6 382.6, 188.9 384.6 C195.6 386.6, 205.6 389.4, 215.6 392.2"/>
<path d="M146.6 285.0 C147.2 310.0, 148.7 332.0, 153.0 349.0 C156.2 361.0, 161.2 368.0, 166.8 372.8 C175.2 379.5, 184.2 382.6, 190.5 384.6 C197.2 386.6, 207.2 389.4, 217.2 392.2"/>
<path d="M148.2 285.0 C148.8 310.0, 150.3 332.0, 154.6 349.0 C157.8 361.0, 162.8 368.0, 168.4 372.8 C176.8 379.5, 185.8 382.6, 192.1 384.6 C198.8 386.6, 208.8 389.4, 218.8 392.2"/>
<path d="M149.8 285.0 C150.4 310.0, 151.9 332.0, 156.2 349.0 C159.4 361.0, 164.4 368.0, 170.0 372.8 C178.4 379.5, 187.4 382.6, 193.7 384.6 C200.4 386.6, 210.4 389.4, 220.4 392.2"/>
<path d="M151.4 285.0 C152.0 310.0, 153.5 332.0, 157.8 349.0 C161.0 361.0, 166.0 368.0, 171.6 372.8 C180.0 379.5, 189.0 382.6, 195.3 384.6 C202.0 386.6, 212.0 389.4, 222.0 392.2"/>
<path d="M153.0 285.0 C153.6 310.0, 155.1 332.0, 159.4 349.0 C162.6 361.0, 167.6 368.0, 173.2 372.8 C181.6 379.5, 190.6 382.6, 196.9 384.6 C203.6 386.6, 213.6 389.4, 223.6 392.2"/>
</g></g>
<path d="M150.5 311 C 152.5 337, 153.5 362, 154.5 390" fill="none" stroke="#3a4048" stroke-width="2.4"/>
<path d="M156 318 C 158 340, 159 365, 160 392" fill="none" stroke="#3a4048" stroke-width="0.8"/>
<ellipse cx="154.5" cy="342" rx="1.7" ry="3.6" fill="#eef0ef" stroke="#3a4048" stroke-width="0.8" transform="rotate(8 154.5 342)"/>
<ellipse cx="157" cy="375" rx="1.7" ry="3.6" fill="#eef0ef" stroke="#3a4048" stroke-width="0.8" transform="rotate(8 157 375)"/>
<path d="M158 328 L162.5 338" stroke="#3a4048" stroke-width="1" fill="none"/>
<path d="M77.5 298 C 77 320, 80 338, 89 352" fill="none" stroke="#3a4048" stroke-width="1.1"/>
<path d="M81.5 296 C 81 318, 84 336, 91.5 350" fill="none" stroke="#3a4048" stroke-width="1.1"/>
<ellipse cx="85.5" cy="310" rx="1.8" ry="4" fill="#eef0ef" stroke="#3a4048" stroke-width="0.8" transform="rotate(10 85.5 310)"/>
<path d="M89.5 294 L95 305" stroke="#3a4048" stroke-width="0.8" fill="none"/>
<path d="M42 352 L88 324" stroke="#3a4048" stroke-width="0.9" fill="none"/>
<path d="M44 362 L82 338" stroke="#3a4048" stroke-width="0.9" fill="none"/>
<path d="M47 368 L78 348" stroke="#3a4048" stroke-width="0.9" fill="none"/>
<path d="M50 376 L76 358" stroke="#3a4048" stroke-width="0.9" fill="none"/>
<path d="M52 382 L74 366" stroke="#3a4048" stroke-width="0.9" fill="none"/>
<path d="M56 389 L70 380" stroke="#3a4048" stroke-width="0.9" fill="none"/>
<path d="M43 352 C 48 347, 56 348, 58 352" stroke="#3a4048" stroke-width="1.2" fill="none"/>
<path d="M44 358 C 50 352, 58 354, 61 358" stroke="#3a4048" stroke-width="0.9" fill="none"/>
<path d="M56 390 L70 380 L80 388 L75 392" stroke="#3a4048" stroke-width="0.9" fill="none"/>
<path d="M68 383 C 72 374, 76 372, 79 374" stroke="#3a4048" stroke-width="1.4" fill="none"/>
<path d="M98 376 L146 396" stroke="#3a4048" stroke-width="0.9" fill="none"/>
<path d="M76 390 L118 410" stroke="#3a4048" stroke-width="0.9" fill="none"/>
<path d="M107 382 L132 393 C 127 398, 124 404, 122 409 L100 399 C 99 393, 102 386, 107 382 Z" fill="#eef0ef" stroke="#3a4048" stroke-width="0.9"/>
<path d="M132 393 L146 395 C 138 399, 132 405, 128 411 L122 409 C 124 403, 127 397, 132 393 Z" fill="#555b62" stroke="#3a4048" stroke-width="0.8"/>
<path d="M127.0 397.0 L124.5 405.0" stroke="#eef0ef" stroke-width="1.2"/>
<path d="M130.2 397.6 L127.7 405.8" stroke="#eef0ef" stroke-width="1.2"/>
<path d="M133.4 398.2 L130.9 406.6" stroke="#eef0ef" stroke-width="1.2"/>
<path d="M136.6 398.8 L134.1 407.4" stroke="#eef0ef" stroke-width="1.2"/>
<path d="M119 372 L117 378 L124 380" stroke="#3a4048" stroke-width="0.9" fill="none"/>
<path d="M85 384 L91 384 L96 416 L88 416 Z" fill="#eef0ef" stroke="#3a4048" stroke-width="0.9"/>
<ellipse cx="100" cy="411" rx="6" ry="4" fill="#eef0ef" stroke="#3a4048" stroke-width="0.9"/><ellipse cx="100" cy="412" rx="3" ry="2" fill="none" stroke="#3a4048" stroke-width="0.8"/>
<path d="M77 407 L84 410 M80 405 L86 408" stroke="#3a4048" stroke-width="1.2" fill="none"/>
<path d="M79 379 L80.5 384 L95.5 384 L97 379 Z" fill="#eef0ef" stroke="#3a4048" stroke-width="0.8"/>
<path d="M78 372 L79 379 L97 379 L98 372 Z" fill="#eef0ef" stroke="#3a4048" stroke-width="0.8"/>
<path d="M80 381.5 L96 381.5" stroke="#3a4048" stroke-width="0.7"/>
<path d="M75.5 362.5 C 76 369, 79 372.5, 82 373 L94 373 C 97 372.5, 99.5 369, 100 362.5 Z" fill="#eef0ef" stroke="#3a4048" stroke-width="0.9"/>
<ellipse cx="87.8" cy="362.5" rx="12.3" ry="4.6" fill="#eef0ef" stroke="#3a4048" stroke-width="0.9"/>
<ellipse cx="87.8" cy="363.2" rx="9" ry="2.8" fill="none" stroke="#3a4048" stroke-width="0.7"/>
<path d="M87.2 345 L87 366" stroke="#5a6068" stroke-width="2.2" fill="none"/>
<ellipse cx="86.5" cy="365" rx="16.5" ry="12.2" fill="none" stroke="#129447" stroke-width="2.4" stroke-dasharray="8.5 4.2" stroke-dashoffset="3"/>
<g clip-path="url(#mag2)"><path d="M102.6 285.0 L117.5 285.0 L101.5 336.0 L107.8 337.8 L89.0 348.2 L78.6 329.0 L85.0 331.4 Z" fill="#33a652" fill-opacity="0.9"/></g>
</g>
<circle cx="104.3" cy="352.8" r="64.3" fill="none" stroke="#0c9447" stroke-width="1.5"/></g>
<!-- illus_r -->
<g>
<g fill="none" stroke="#3a4048" stroke-width="0.9">
<path d="M678.8 274 L678.8 299.6 M682.6 274 L682.6 298"/>
<path d="M682.6 298 L696 294.8 C 701 293.6, 703 288, 704.6 274"/>
<path d="M708 274 L705.4 287 C 704.8 290.4, 705.6 292, 708.6 293.2 L760 309.6"/>
<path d="M797 317.8 L813.6 325.6"/>
<path d="M817 274 L812.8 337.6 M822 274 L817.4 340 M819.6 274 L815 338.6"/>
<path d="M840.8 274 C 838 296, 836 310, 832 321 C 829 329, 823 333, 817.6 336.4"/>
</g>
<path d="M750.2 438.4 L816.4 342 L816.4 390 C 816.4 393, 815.8 394.6, 814 396.6 L756 468.6 C 753 472, 749.6 472, 749.6 468 Z" fill="#eef0ef" stroke="#3a4048" stroke-width="1"/>
<path d="M602.3 389 L678.8 299.6 L816.4 342 L750.2 438.4 Z" fill="#eef0ef" stroke="#3a4048" stroke-width="1"/>
<path d="M678.8 299.6 L816.4 342 L813.8 346 L676 303.2 Z" fill="#eef0ef" stroke="#3a4048" stroke-width="0.8"/>
<path d="M696 307.4 L742 321.6" stroke="#3a4048" stroke-width="2" stroke-dasharray="2.6 2.2" fill="none"/>
<path d="M605.4 388.6 L678.2 303.4" fill="none" stroke="#3a4048" stroke-width="0.9"/>
<path d="M608.6 388.4 L677.6 307 L809.6 347.6 L748 434.6" fill="none" stroke="#3a4048" stroke-width="0.9"/>
<path d="M611.6 387 L679.4 311 L806 350 L745.6 431.6" fill="none" stroke="#3a4048" stroke-width="0.7"/>
<path d="M675 314.6 L736 333.2" fill="none" stroke="#596068" stroke-width="2.6"/>
<path d="M675 311 L801 349.4" fill="none" stroke="#3a4048" stroke-width="0.7"/>
<path d="M673.4 312 L672.6 340" fill="none" stroke="#3a4048" stroke-width="0.9"/>
<path d="M672.6 339.6 L722 358.2" stroke="#3a4048" stroke-width="5"/><path d="M672.6 339.6 L722 358.2" stroke="#eef0ef" stroke-width="3.4"/>
<rect x="697.6" y="347" width="3.6" height="8.6" rx="1.6" fill="#eef0ef" stroke="#3a4048" stroke-width="0.8" transform="rotate(8 699 351)"/>
<path d="M672 339.4 C 668 358, 656 372, 642 384" fill="none" stroke="#3a4048" stroke-width="0.8"/>
<path d="M664 341.6 C 650 346, 634 362, 624 379" fill="none" stroke="#3a4048" stroke-width="0.8"/>
<path d="M660 345 C 648 350, 636 364, 628 380" fill="none" stroke="#3a4048" stroke-width="0.7"/>
<path d="M676.6 360 L655 388 M681 364 L662 390" fill="none" stroke="#3a4048" stroke-width="0.8"/>
<path d="M722 358 L697 393 M726 361 L702 395" fill="none" stroke="#3a4048" stroke-width="0.8"/>
<path d="M676.6 360 L681 357 L715 368" fill="none" stroke="#3a4048" stroke-width="0.8"/>
<clipPath id="m1"><path d="M680.6 361.6 L713.0 370.6 L697.0 388.4 L686.0 384.0 Z"/></clipPath><path d="M680.6 361.6 L713.0 370.6 L697.0 388.4 L686.0 384.0 Z" fill="#d9dbdd"/><g clip-path="url(#m1)" stroke="#3a4048" stroke-width="0.55"><path d="M670.6 359.6 L676.6 390.4"/><path d="M672.2 359.6 L678.2 390.4"/><path d="M673.8 359.6 L679.8 390.4"/><path d="M675.4 359.6 L681.4 390.4"/><path d="M677.0 359.6 L683.0 390.4"/><path d="M678.6 359.6 L684.6 390.4"/><path d="M680.2 359.6 L686.2 390.4"/><path d="M681.8 359.6 L687.8 390.4"/><path d="M683.4 359.6 L689.4 390.4"/><path d="M685.0 359.6 L691.0 390.4"/><path d="M686.6 359.6 L692.6 390.4"/><path d="M688.2 359.6 L694.2 390.4"/><path d="M689.8 359.6 L695.8 390.4"/><path d="M691.4 359.6 L697.4 390.4"/><path d="M693.0 359.6 L699.0 390.4"/><path d="M694.6 359.6 L700.6 390.4"/><path d="M696.2 359.6 L702.2 390.4"/><path d="M697.8 359.6 L703.8 390.4"/><path d="M699.4 359.6 L705.4 390.4"/><path d="M701.0 359.6 L707.0 390.4"/><path d="M702.6 359.6 L708.6 390.4"/><path d="M704.2 359.6 L710.2 390.4"/><path d="M705.8 359.6 L711.8 390.4"/><path d="M707.4 359.6 L713.4 390.4"/><path d="M709.0 359.6 L715.0 390.4"/><path d="M710.6 359.6 L716.6 390.4"/><path d="M712.2 359.6 L718.2 390.4"/><path d="M713.8 359.6 L719.8 390.4"/><path d="M678.6 349.6 L715.0 360.5"/><path d="M678.6 351.3 L715.0 362.2"/><path d="M678.6 353.0 L715.0 363.9"/><path d="M678.6 354.7 L715.0 365.6"/><path d="M678.6 356.4 L715.0 367.3"/><path d="M678.6 358.1 L715.0 369.0"/><path d="M678.6 359.8 L715.0 370.7"/><path d="M678.6 361.5 L715.0 372.4"/><path d="M678.6 363.2 L715.0 374.1"/><path d="M678.6 364.9 L715.0 375.8"/><path d="M678.6 366.6 L715.0 377.5"/><path d="M678.6 368.3 L715.0 379.2"/><path d="M678.6 370.0 L715.0 380.9"/><path d="M678.6 371.7 L715.0 382.6"/><path d="M678.6 373.4 L715.0 384.3"/><path d="M678.6 375.1 L715.0 386.0"/><path d="M678.6 376.8 L715.0 387.7"/><path d="M678.6 378.5 L715.0 389.4"/><path d="M678.6 380.2 L715.0 391.1"/><path d="M678.6 381.9 L715.0 392.8"/><path d="M678.6 383.6 L715.0 394.5"/><path d="M678.6 385.3 L715.0 396.2"/><path d="M678.6 387.0 L715.0 397.9"/><path d="M678.6 388.7 L715.0 399.6"/><path d="M678.6 390.4 L715.0 401.3"/></g><path d="M680.6 361.6 L713.0 370.6 L697.0 388.4 L686.0 384.0 Z" fill="none" stroke="#3a4048" stroke-width="0.8"/>
<rect x="693" y="361.6" width="5" height="3.4" fill="#eef0ef" stroke="#3a4048" stroke-width="0.7" transform="rotate(16 695 363)"/>
<path d="M737.6 379.4 L775.8 390.6" fill="none" stroke="#3a4048" stroke-width="0.8"/>
<clipPath id="m2"><path d="M746.0 384.2 L773.4 392.3 L762.0 410.0 L748.4 406.0 Z"/></clipPath><path d="M746.0 384.2 L773.4 392.3 L762.0 410.0 L748.4 406.0 Z" fill="#d9dbdd"/><g clip-path="url(#m2)" stroke="#3a4048" stroke-width="0.55"><path d="M736.0 382.2 L742.0 412.0"/><path d="M737.6 382.2 L743.6 412.0"/><path d="M739.2 382.2 L745.2 412.0"/><path d="M740.8 382.2 L746.8 412.0"/><path d="M742.4 382.2 L748.4 412.0"/><path d="M744.0 382.2 L750.0 412.0"/><path d="M745.6 382.2 L751.6 412.0"/><path d="M747.2 382.2 L753.2 412.0"/><path d="M748.8 382.2 L754.8 412.0"/><path d="M750.4 382.2 L756.4 412.0"/><path d="M752.0 382.2 L758.0 412.0"/><path d="M753.6 382.2 L759.6 412.0"/><path d="M755.2 382.2 L761.2 412.0"/><path d="M756.8 382.2 L762.8 412.0"/><path d="M758.4 382.2 L764.4 412.0"/><path d="M760.0 382.2 L766.0 412.0"/><path d="M761.6 382.2 L767.6 412.0"/><path d="M763.2 382.2 L769.2 412.0"/><path d="M764.8 382.2 L770.8 412.0"/><path d="M766.4 382.2 L772.4 412.0"/><path d="M768.0 382.2 L774.0 412.0"/><path d="M769.6 382.2 L775.6 412.0"/><path d="M771.2 382.2 L777.2 412.0"/><path d="M772.8 382.2 L778.8 412.0"/><path d="M774.4 382.2 L780.4 412.0"/><path d="M744.0 372.2 L775.4 381.6"/><path d="M744.0 373.9 L775.4 383.3"/><path d="M744.0 375.6 L775.4 385.0"/><path d="M744.0 377.3 L775.4 386.7"/><path d="M744.0 379.0 L775.4 388.4"/><path d="M744.0 380.7 L775.4 390.1"/><path d="M744.0 382.4 L775.4 391.8"/><path d="M744.0 384.1 L775.4 393.5"/><path d="M744.0 385.8 L775.4 395.2"/><path d="M744.0 387.5 L775.4 396.9"/><path d="M744.0 389.2 L775.4 398.6"/><path d="M744.0 390.9 L775.4 400.3"/><path d="M744.0 392.6 L775.4 402.0"/><path d="M744.0 394.3 L775.4 403.7"/><path d="M744.0 396.0 L775.4 405.4"/><path d="M744.0 397.7 L775.4 407.1"/><path d="M744.0 399.4 L775.4 408.8"/><path d="M744.0 401.1 L775.4 410.5"/><path d="M744.0 402.8 L775.4 412.2"/><path d="M744.0 404.5 L775.4 413.9"/><path d="M744.0 406.2 L775.4 415.6"/><path d="M744.0 407.9 L775.4 417.3"/><path d="M744.0 409.6 L775.4 419.0"/><path d="M744.0 411.3 L775.4 420.7"/></g><path d="M746.0 384.2 L773.4 392.3 L762.0 410.0 L748.4 406.0 Z" fill="none" stroke="#3a4048" stroke-width="0.8"/>
<clipPath id="m2b"><path d="M737.4 381.6 L746.0 384.2 L748.4 406.0 L735.0 392.0 Z"/></clipPath><path d="M737.4 381.6 L746.0 384.2 L748.4 406.0 L735.0 392.0 Z" fill="#d9dbdd"/><g clip-path="url(#m2b)" stroke="#3a4048" stroke-width="0.55"><path d="M725.0 379.6 L731.0 408.0"/><path d="M726.6 379.6 L732.6 408.0"/><path d="M728.2 379.6 L734.2 408.0"/><path d="M729.8 379.6 L735.8 408.0"/><path d="M731.4 379.6 L737.4 408.0"/><path d="M733.0 379.6 L739.0 408.0"/><path d="M734.6 379.6 L740.6 408.0"/><path d="M736.2 379.6 L742.2 408.0"/><path d="M737.8 379.6 L743.8 408.0"/><path d="M739.4 379.6 L745.4 408.0"/><path d="M741.0 379.6 L747.0 408.0"/><path d="M742.6 379.6 L748.6 408.0"/><path d="M744.2 379.6 L750.2 408.0"/><path d="M745.8 379.6 L751.8 408.0"/><path d="M747.4 379.6 L753.4 408.0"/><path d="M749.0 379.6 L755.0 408.0"/><path d="M733.0 369.6 L750.4 374.8"/><path d="M733.0 371.3 L750.4 376.5"/><path d="M733.0 373.0 L750.4 378.2"/><path d="M733.0 374.7 L750.4 379.9"/><path d="M733.0 376.4 L750.4 381.6"/><path d="M733.0 378.1 L750.4 383.3"/><path d="M733.0 379.8 L750.4 385.0"/><path d="M733.0 381.5 L750.4 386.7"/><path d="M733.0 383.2 L750.4 388.4"/><path d="M733.0 384.9 L750.4 390.1"/><path d="M733.0 386.6 L750.4 391.8"/><path d="M733.0 388.3 L750.4 393.5"/><path d="M733.0 390.0 L750.4 395.2"/><path d="M733.0 391.7 L750.4 396.9"/><path d="M733.0 393.4 L750.4 398.6"/><path d="M733.0 395.1 L750.4 400.3"/><path d="M733.0 396.8 L750.4 402.0"/><path d="M733.0 398.5 L750.4 403.7"/><path d="M733.0 400.2 L750.4 405.4"/><path d="M733.0 401.9 L750.4 407.1"/><path d="M733.0 403.6 L750.4 408.8"/><path d="M733.0 405.3 L750.4 410.5"/><path d="M733.0 407.0 L750.4 412.2"/></g><path d="M737.4 381.6 L746.0 384.2 L748.4 406.0 L735.0 392.0 Z" fill="none" stroke="#3a4048" stroke-width="0.8"/>
<path d="M737 381 L716 410 M741 384.6 L722 412" fill="none" stroke="#3a4048" stroke-width="0.8"/>
<path d="M756 383.6 L761 385 L760.4 387.6 L755.4 386.2 Z" fill="#eef0ef" stroke="#3a4048" stroke-width="0.7"/>
<path d="M775.8 390.6 L762 411" fill="none" stroke="#3a4048" stroke-width="0.8"/>
<path d="M757 366 C 752 384, 742 398, 731 408" fill="none" stroke="#3a4048" stroke-width="0.8"/>
<path d="M606 389.6 L620 374.6 L757 418.6 L748 434.6 Z" fill="#eef0ef" stroke="#3a4048" stroke-width="0.8"/>
<path d="M626 378.6 L750 419.4" stroke="#3a4048" stroke-width="5"/><path d="M626 378.6 L750 419.4" stroke="#eef0ef" stroke-width="3.6"/>
<path d="M644.2 381.9 L642.8 387.3" stroke="#3a4048" stroke-width="2.8"/>
<path d="M653.9 385.1 L652.5 390.5" stroke="#3a4048" stroke-width="2.2"/>
<path d="M657.3 386.2 L655.9 391.6" stroke="#3a4048" stroke-width="2.2"/>
<path d="M676.5 392.5 L675.1 397.9" stroke="#3a4048" stroke-width="2.8"/>
<path d="M686.2 395.7 L684.8 401.1" stroke="#3a4048" stroke-width="2.2"/>
<path d="M689.6 396.8 L688.2 402.2" stroke="#3a4048" stroke-width="2.2"/>
<path d="M708.7 403.1 L707.3 408.5" stroke="#3a4048" stroke-width="2.8"/>
<path d="M719.1 406.5 L717.7 411.9" stroke="#3a4048" stroke-width="2.2"/>
<path d="M722.5 407.6 L721.1 413.0" stroke="#3a4048" stroke-width="2.2"/>
<path d="M741.7 413.9 L740.3 419.3" stroke="#3a4048" stroke-width="2.6"/>
<path d="M609 391.6 L749 436.6" stroke="#3a4048" stroke-width="1.8" fill="none"/>
<path d="M647 381 C 652 380, 656 377, 659 373" fill="none" stroke="#3a4048" stroke-width="1.6"/>
<path d="M705 400 C 710 399, 714 396, 717 392" fill="none" stroke="#3a4048" stroke-width="1.6"/>
<path d="M738 410 C 743 409, 747 406, 750 402" fill="none" stroke="#3a4048" stroke-width="1.6"/>
<path d="M602.3 389 L750.2 438.4 L749.6 471 C 749 478, 744 479, 738 476.6 L618 430 C 611 427, 608 422, 606.6 415 Z" fill="#eef0ef" stroke="#3a4048" stroke-width="1.1"/>
<path d="M609.6 397 L743.4 441.6 L741.6 466 C 741 471, 738 471.6, 734 470 L623 427 C 618 424.6, 616 421, 615 416 Z" fill="none" stroke="#3a4048" stroke-width="0.8"/>
<path d="M605 394 L750 442.6" stroke="#3a4048" stroke-width="0.7" fill="none"/>
<path d="M617.6 399.8 L621.4 425.6 M737.4 439.6 L733.6 468.6" stroke="#3a4048" stroke-width="0.7" fill="none"/>
<path d="M618 403 L741 444" stroke="#3a4048" stroke-width="1.5" stroke-dasharray="1.2 1.2" fill="none"/>
<path d="M664.4 426.8 L685.9 435 L685.9 445 L664.4 437 Z" fill="#eef0ef" stroke="#3a4048" stroke-width="0.9"/>
<path d="M603 386.6 L606 377 L616.6 368 L619 369.6 L608.6 382 L606 389 Z" fill="#3a4048" fill-opacity="0.75" stroke="#3a4048" stroke-width="0.8"/>
<path d="M755.6 442 L763 430.6" stroke="#3a4048" stroke-width="9.4" stroke-linecap="round"/>
<path d="M755.6 442 L763 430.6" stroke="#eef0ef" stroke-width="7.6" stroke-linecap="round"/>
<path d="M757 440 L762 432.4" stroke="#3a4048" stroke-width="3.4" stroke-linecap="round"/>
<path d="M757 440 L762 432.4" stroke="#eef0ef" stroke-width="1.6" stroke-linecap="round"/>
<path d="M816.6 355.6 L819.6 354.4 L819.6 364.6 L816.6 366.6 Z" fill="#eef0ef" stroke="#3a4048" stroke-width="0.8"/>
<path d="M628.4000000000001 386.0 L636.0 388.8 L635.4000000000001 392.2 L627.8000000000001 389.40000000000003 Z" fill="#3a4048"/><path d="M631.4000000000001 377.8 L631.4000000000001 386.8 M633.1 377.8 L633.1 386.8" stroke="#3a4048" stroke-width="0.8"/><path d="M628.8000000000001 375.8 L629.2 378.40000000000003 L635.2 378.40000000000003 L635.6 375.8 Z" fill="#eef0ef" stroke="#3a4048" stroke-width="0.8"/><ellipse cx="632.2" cy="375.8" rx="3.5" ry="2.1" fill="#eef0ef" stroke="#3a4048" stroke-width="0.9"/>
<path d="M660.4000000000001 396.8 L668.0 399.6 L667.4000000000001 403.0 L659.8000000000001 400.20000000000005 Z" fill="#3a4048"/><path d="M663.4000000000001 388.6 L663.4000000000001 397.6 M665.1 388.6 L665.1 397.6" stroke="#3a4048" stroke-width="0.8"/><path d="M660.8000000000001 386.6 L661.2 389.20000000000005 L667.2 389.20000000000005 L667.6 386.6 Z" fill="#eef0ef" stroke="#3a4048" stroke-width="0.8"/><ellipse cx="664.2" cy="386.6" rx="3.5" ry="2.1" fill="#eef0ef" stroke="#3a4048" stroke-width="0.9"/>
<path d="M693.1 407.8 L700.6999999999999 410.6 L700.1 414.0 L692.5 411.20000000000005 Z" fill="#3a4048"/><path d="M696.1 399.6 L696.1 408.6 M697.8 399.6 L697.8 408.6" stroke="#3a4048" stroke-width="0.8"/><path d="M693.5 397.6 L693.9 400.20000000000005 L699.9 400.20000000000005 L700.3 397.6 Z" fill="#eef0ef" stroke="#3a4048" stroke-width="0.8"/><ellipse cx="696.9" cy="397.6" rx="3.5" ry="2.1" fill="#eef0ef" stroke="#3a4048" stroke-width="0.9"/>
<path d="M726.8000000000001 419.09999999999997 L734.4 421.9 L733.8000000000001 425.29999999999995 L726.2 422.5 Z" fill="#3a4048"/><path d="M729.8000000000001 410.9 L729.8000000000001 419.9 M731.5 410.9 L731.5 419.9" stroke="#3a4048" stroke-width="0.8"/><path d="M727.2 408.9 L727.6 411.5 L733.6 411.5 L734.0 408.9 Z" fill="#eef0ef" stroke="#3a4048" stroke-width="0.8"/><ellipse cx="730.6" cy="408.9" rx="3.5" ry="2.1" fill="#eef0ef" stroke="#3a4048" stroke-width="0.9"/>
<ellipse cx="745.5" cy="327.0" rx="17.7" ry="48.0" transform="rotate(20 745.5 327.0)" fill="#eef0ef" stroke="#3a4048" stroke-width="1.9"/>
<ellipse cx="747.1" cy="327.5" rx="16.1" ry="45.0" transform="rotate(20 747.1 327.5)" fill="#3c434b"/>
<ellipse cx="749.2" cy="328.1" rx="16.1" ry="45.0" transform="rotate(20 749.2 328.1)" fill="#3c434b"/>
<ellipse cx="751.3" cy="328.8" rx="16.1" ry="45.0" transform="rotate(20 751.3 328.8)" fill="#3c434b"/>
<ellipse cx="753.4" cy="329.4" rx="16.1" ry="45.0" transform="rotate(20 753.4 329.4)" fill="#3c434b"/>
<ellipse cx="755.5" cy="330.1" rx="16.1" ry="45.0" transform="rotate(20 755.5 330.1)" fill="#3c434b"/>
<ellipse cx="757.6" cy="330.7" rx="16.1" ry="45.0" transform="rotate(20 757.6 330.7)" fill="#3c434b"/>
<ellipse cx="759.8" cy="331.4" rx="16.1" ry="45.0" transform="rotate(20 759.8 331.4)" fill="#3c434b"/>
<ellipse cx="761.9" cy="332.0" rx="16.1" ry="45.0" transform="rotate(20 761.9 332.0)" fill="#3c434b"/>
<ellipse cx="764.0" cy="332.6" rx="16.1" ry="45.0" transform="rotate(20 764.0 332.6)" fill="#3c434b"/>
<ellipse cx="766.1" cy="333.3" rx="16.1" ry="45.0" transform="rotate(20 766.1 333.3)" fill="#3c434b"/>
<ellipse cx="768.2" cy="333.9" rx="16.1" ry="45.0" transform="rotate(20 768.2 333.9)" fill="#3c434b"/>
<ellipse cx="770.3" cy="334.6" rx="16.1" ry="45.0" transform="rotate(20 770.3 334.6)" fill="#3c434b"/>
<ellipse cx="772.4" cy="335.2" rx="16.1" ry="45.0" transform="rotate(20 772.4 335.2)" fill="#3c434b"/>
<ellipse cx="746.1" cy="327.2" rx="16.8" ry="46.4" transform="rotate(20 746.1 327.2)" fill="none" stroke="#3a4048" stroke-width="2.2" stroke-dasharray="2.2 7.4"/>
<ellipse cx="754.7" cy="329.8" rx="16.1" ry="45.0" transform="rotate(20 754.7 329.8)" fill="none" stroke="#5b626a" stroke-width="0.6"/>
<ellipse cx="762.8" cy="332.3" rx="16.1" ry="45.0" transform="rotate(20 762.8 332.3)" fill="none" stroke="#5b626a" stroke-width="0.6"/>
<ellipse cx="773.4" cy="335.5" rx="17.7" ry="48.0" transform="rotate(20 773.4 335.5)" fill="#eef0ef" stroke="#3a4048" stroke-width="1.5"/>
<clipPath id="spkr"><ellipse cx="773.4" cy="335.5" rx="15.8" ry="45.0" transform="rotate(20 773.4 335.5)"/></clipPath>
<ellipse cx="773.4" cy="335.5" rx="15.8" ry="45.0" transform="rotate(20 773.4 335.5)" fill="#3c434b" stroke="#3a4048" stroke-width="0.8"/>
<g clip-path="url(#spkr)">
<path d="M773.6 340.0 L782.4 290.0" stroke="#3a4048" stroke-width="6.0"/>
<path d="M773.6 340.0 L791.0 294.0" stroke="#3a4048" stroke-width="6.0"/>
<path d="M773.6 340.0 L798.0 309.0" stroke="#3a4048" stroke-width="5.800000000000001"/>
<path d="M773.6 340.0 L797.0 330.0" stroke="#3a4048" stroke-width="5.800000000000001"/>
<path d="M773.6 340.0 L790.0 351.0" stroke="#3a4048" stroke-width="6.0"/>
<path d="M773.6 340.0 L775.0 378.0" stroke="#3a4048" stroke-width="6.199999999999999"/>
<path d="M773.6 340.0 L760.0 376.0" stroke="#3a4048" stroke-width="6.199999999999999"/>
<path d="M773.6 340.0 L752.0 352.0" stroke="#3a4048" stroke-width="4.6"/>
<path d="M773.6 340.0 L765.0 303.0" stroke="#3a4048" stroke-width="5.800000000000001"/>
<path d="M773.6 340.0 L782.4 290.0" stroke="#eef0ef" stroke-width="4.4"/>
<path d="M773.6 340.0 L782.4 290.0" stroke="#3a4048" stroke-width="0.5"/>
<path d="M773.6 340.0 L791.0 294.0" stroke="#eef0ef" stroke-width="4.4"/>
<path d="M773.6 340.0 L791.0 294.0" stroke="#3a4048" stroke-width="0.5"/>
<path d="M773.6 340.0 L798.0 309.0" stroke="#eef0ef" stroke-width="4.2"/>
<path d="M773.6 340.0 L798.0 309.0" stroke="#3a4048" stroke-width="0.5"/>
<path d="M773.6 340.0 L797.0 330.0" stroke="#eef0ef" stroke-width="4.2"/>
<path d="M773.6 340.0 L797.0 330.0" stroke="#3a4048" stroke-width="0.5"/>
<path d="M773.6 340.0 L790.0 351.0" stroke="#eef0ef" stroke-width="4.4"/>
<path d="M773.6 340.0 L790.0 351.0" stroke="#3a4048" stroke-width="0.5"/>
<path d="M773.6 340.0 L775.0 378.0" stroke="#eef0ef" stroke-width="4.6"/>
<path d="M773.6 340.0 L775.0 378.0" stroke="#3a4048" stroke-width="0.5"/>
<path d="M773.6 340.0 L760.0 376.0" stroke="#eef0ef" stroke-width="4.6"/>
<path d="M773.6 340.0 L760.0 376.0" stroke="#3a4048" stroke-width="0.5"/>
<path d="M773.6 340.0 L752.0 352.0" stroke="#eef0ef" stroke-width="3"/>
<path d="M773.6 340.0 L752.0 352.0" stroke="#3a4048" stroke-width="0.5"/>
<path d="M773.6 340.0 L765.0 303.0" stroke="#eef0ef" stroke-width="4.2"/>
<path d="M773.6 340.0 L765.0 303.0" stroke="#3a4048" stroke-width="0.5"/>
</g>
<ellipse cx="773.6" cy="340.0" rx="8.9" ry="19.4" transform="rotate(20 773.6 340.0)" fill="#eef0ef" stroke="#3a4048" stroke-width="1.0"/>
<ellipse cx="773.6" cy="340.0" rx="7.6" ry="16.7" transform="rotate(20 773.6 340.0)" fill="none" stroke="#3a4048" stroke-width="1.6" stroke-dasharray="1.0 3.2"/>
<ellipse cx="773.6" cy="340.0" rx="6.2" ry="14.3" transform="rotate(20 773.6 340.0)" fill="#eef0ef" stroke="#3a4048" stroke-width="0.9"/>
<ellipse cx="774.6" cy="340.4" rx="5.3" ry="12.5" transform="rotate(20 774.6 340.4)" fill="#eef0ef" stroke="#3a4048" stroke-width="0.7"/>
<path d="M754.4 333.6 L765 331.4 L766.2 344.6 L755.6 347.2 Z" fill="#eef0ef" stroke="#3a4048" stroke-width="0.9"/><ellipse cx="760.2" cy="339.2" rx="2.3" ry="4" fill="#eef0ef" stroke="#3a4048" stroke-width="0.9" transform="rotate(12 760.2 339.2)"/>
<linearGradient id="ua1" gradientUnits="userSpaceOnUse" x1="731" y1="402" x2="731" y2="356.7"><stop offset="0" stop-color="#35a853" stop-opacity="0.05"/><stop offset="0.6" stop-color="#2fa44f" stop-opacity="0.95"/><stop offset="1" stop-color="#2fa44f"/></linearGradient><path d="M727.6 402.0 L727.6 367.0 L722.2 367.0 L731.0 356.7 L739.8 367.0 L734.4 367.0 L734.4 402.0 Z" fill="url(#ua1)"/>
<linearGradient id="ua2" gradientUnits="userSpaceOnUse" x1="774" y1="364" x2="774" y2="310"><stop offset="0" stop-color="#35a853" stop-opacity="0.05"/><stop offset="0.6" stop-color="#2fa44f" stop-opacity="0.95"/><stop offset="1" stop-color="#2fa44f"/></linearGradient><path d="M770.3 364.0 L770.3 323.6 L763.5 323.6 L774.0 310.0 L784.5 323.6 L777.7 323.6 L777.7 364.0 Z" fill="url(#ua2)"/>
</g>
</svg>
</body></html>
